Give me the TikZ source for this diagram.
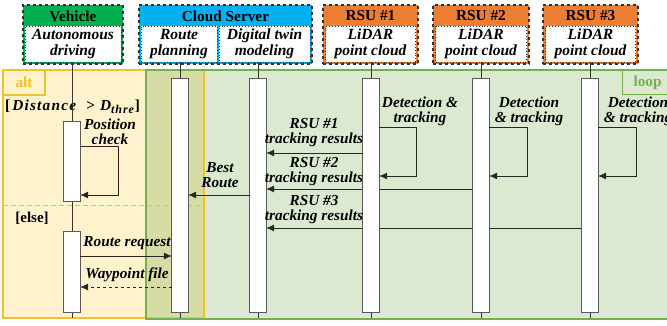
\documentclass[tikz,border=0pt]{standalone}
\usepackage{fontspec}
\setmainfont{Liberation Serif}
\usetikzlibrary{arrows.meta}
\definecolor{vgreen}{RGB}{0,176,80}
\definecolor{cblue}{RGB}{0,176,240}
\definecolor{rorange}{RGB}{237,125,49}
\definecolor{altfill}{RGB}{255,242,204}
\definecolor{altline}{RGB}{245,192,40}
\definecolor{loopfill}{RGB}{219,233,209}
\definecolor{loopline}{RGB}{118,175,78}
\definecolor{overlap}{RGB}{215,220,165}
\definecolor{bordgray}{RGB}{50,50,50}
\definecolor{actgray}{RGB}{90,90,90}
\tikzset{
  hdr/.style={draw=bordgray, dashed, line width=1.1pt, inner sep=0pt},
  hdrin/.style={draw=bordgray, dotted, line width=0.9pt, fill=white, inner sep=0pt, align=center,
    font=\fontsize{15.5}{15.5}\selectfont\bfseries\itshape},
  hdrtitle/.style={inner sep=0pt, font=\fontsize{15.3}{15}\selectfont\bfseries},
  act/.style={minimum width=16pt, inner sep=0pt},
  lbl/.style={inner sep=0pt, align=center, font=\fontsize{15.3}{15}\selectfont\bfseries\itshape},
  msg/.style={draw=black!85, line width=0.7pt, -{Latex[length=8pt,width=7pt]}},
  life/.style={draw=black!80, line width=0.7pt},
}
\begin{document}
\begin{tikzpicture}[x=1pt,y=-1pt]
\useasboundingbox (0,0) rectangle (667,325);
\clip (0,0) rectangle (667,325);
% frames
\fill[altfill] (3,70) rectangle (146,318);
\fill[overlap] (146,70) rectangle (204,318);
\fill[loopfill] (204,70) rectangle (670,319);
\draw[altline, line width=1.1pt] (146,70) -- (3,70) -- (3,318) -- (146,318);
\draw[altline, line width=1.1pt] (146,70) -- (204,70) -- (204,318) -- (146,318);
\draw[loopline, line width=1.2pt] (670,70) -- (146,70) -- (146,319) -- (670,319);
\draw[altline, line width=0.9pt, dash pattern=on 5pt off 3pt] (3,205) -- (204,205);
\node[draw=altline, line width=1.1pt, minimum width=42pt, minimum height=25pt, inner sep=0pt,
  text=altline, font=\fontsize{15.3}{15}\selectfont\bfseries] (altlbl) at (24,82.5) {alt};
\node[draw=loopline, line width=1.1pt, minimum width=50pt, minimum height=24pt, inner sep=0pt,
  text=loopline, font=\fontsize{15.3}{15}\selectfont\bfseries, anchor=north west] (looplbl) at (622,70) {\hspace*{6pt}loop\hspace*{6pt}};
% guards
\node[inner sep=0pt, font=\fontsize{15.3}{15}\selectfont\bfseries, anchor=west] (guard) at (5,107)
  {[\hspace{2pt}{\addfontfeature{LetterSpace=8}\textit{Distance}}\hspace{9pt}{>}\hspace{5pt}\textit{D}\raisebox{-3pt}{\fontsize{12}{12}\selectfont\addfontfeature{LetterSpace=8}\textit{thre}}]};
\node[inner sep=0pt, font=\fontsize{15}{15}\selectfont\bfseries] (elsel) at (32,218) {[else]};
% headers
\node[hdr, fill=vgreen, minimum width=100pt, minimum height=59pt] (vh) at (73,34.5) {};
\node[hdrtitle] (vt) at (73,16) {Vehicle};
\node[hdrin, minimum width=96pt, minimum height=36pt] (vin) at (73,44) {Autonomous\\driving};
\node[hdr, fill=cblue, minimum width=173pt, minimum height=59pt] (ch) at (225.5,34.5) {};
\node[hdrtitle] (ct) at (225.5,16) {Cloud Server};
\node[hdrin, minimum width=76pt, minimum height=36pt] (rpin) at (179,44) {Route\\planning};
\node[hdrin, minimum width=91pt, minimum height=36pt] (dtin) at (264.5,44) {Digital twin\\modeling};
\node[hdr, fill=rorange, minimum width=95pt, minimum height=59pt] (r1h) at (370.5,34.5) {};
\node[hdrtitle] (r1t) at (370.5,16) {RSU \#1};
\node[hdrin, minimum width=90pt, minimum height=36pt] (r1in) at (370.5,44) {LiDAR\\point cloud};
\node[hdr, fill=rorange, minimum width=96pt, minimum height=59pt] (r2h) at (481,34.5) {};
\node[hdrtitle] (r2t) at (481,16) {RSU \#2};
\node[hdrin, minimum width=91pt, minimum height=36pt] (r2in) at (481,44) {LiDAR\\point cloud};
\node[hdr, fill=rorange, minimum width=95pt, minimum height=59pt] (r3h) at (590.5,34.5) {};
\node[hdrtitle] (r3t) at (590.5,16) {RSU \#3};
\node[hdrin, minimum width=90pt, minimum height=36pt] (r3in) at (590.5,44) {LiDAR\\point cloud};
% activation boxes (named first, drawn later)
\path (72,161.5) node[act, minimum height=79pt] (v1) {};
\path (72,272) node[act, minimum height=80pt] (v2) {};
\path (180,195.5) node[act, minimum height=233pt] (rp) {};
\path (258,195.5) node[act, minimum height=233pt] (dt) {};
\path (371,195.5) node[act, minimum height=233pt] (r1) {};
\path (481,195.5) node[act, minimum height=233pt] (r2) {};
\path (590,195.5) node[act, minimum height=233pt] (r3) {};
\coordinate (vend) at (72,318);
% lifelines
\draw[life] (vin.south -| v1) -- (vend);
\draw[life] (rpin.south -| rp) -- (rp.north);
\draw[life] (rp.south) -- ++(0,6);
\draw[life] (dtin.south -| dt) -- (dt.north);
\draw[life] (dt.south) -- ++(0,6);
\draw[life] (r1in.south -| r1) -- (r1.north);
\draw[life] (r1.south) -- ++(0,6);
\draw[life] (r2in.south -| r2) -- (r2.north);
\draw[life] (r2.south) -- ++(0,6);
\draw[life] (r3in.south -| r3) -- (r3.north);
\draw[life] (r3.south) -- ++(0,6);
% messages behind boxes
\draw[msg] (r2.west |- 0,189) -- (dt.east |- 0,189);
\draw[msg] (r3.west |- 0,228) -- (dt.east |- 0,228);
% boxes
\foreach \b in {v1,v2,rp,dt,r1,r2,r3}{
  \draw[draw=actgray, fill=white, line width=0.8pt] (\b.north west) rectangle (\b.south east);
}
% other messages
\draw[msg] (r1.west |- 0,153) -- (dt.east |- 0,153);
\draw[msg] (dt.west |- 0,195) -- (rp.east |- 0,195);
\draw[msg] (v1.east |- 0,146) -- (118,146) -- (118,195) -- (v1.east |- 0,195);
\draw[msg] (r1.east |- 0,127) -- (416,127) -- (416,176) -- (r1.east |- 0,176);
\draw[msg] (r2.east |- 0,127) -- (527,127) -- (527,176) -- (r2.east |- 0,176);
\draw[msg] (r3.east |- 0,127) -- (636,127) -- (636,176) -- (r3.east |- 0,176);
\draw[msg] (v2.east |- 0,256) -- (rp.west |- 0,256);
\draw[msg, dashed] (rp.west |- 0,287) -- (v2.east |- 0,287);
% labels
\node[lbl] (lpc) at (110,132) {Position\\check};
\node[lbl] (ld1) at (420,111) {Detection \&\\tracking};
\node[lbl] (ld2) at (529,111) {Detection\\\& tracking};
\node[lbl] (ld3) at (638,111) {Detection\\\& tracking};
\node[lbl] (lr1) at (314,133) {RSU \#1\\tracking results};
\node[lbl] (lr2) at (314,172) {RSU \#2\\tracking results};
\node[lbl] (lr3) at (314,210) {RSU \#3\\tracking results};
\node[lbl] (lbr) at (220,175) {Best\\Route};
\node[lbl] (lrq) at (127,243) {Route request};
\node[lbl] (lwp) at (127,275) {Waypoint file};
\end{tikzpicture}
\end{document}
